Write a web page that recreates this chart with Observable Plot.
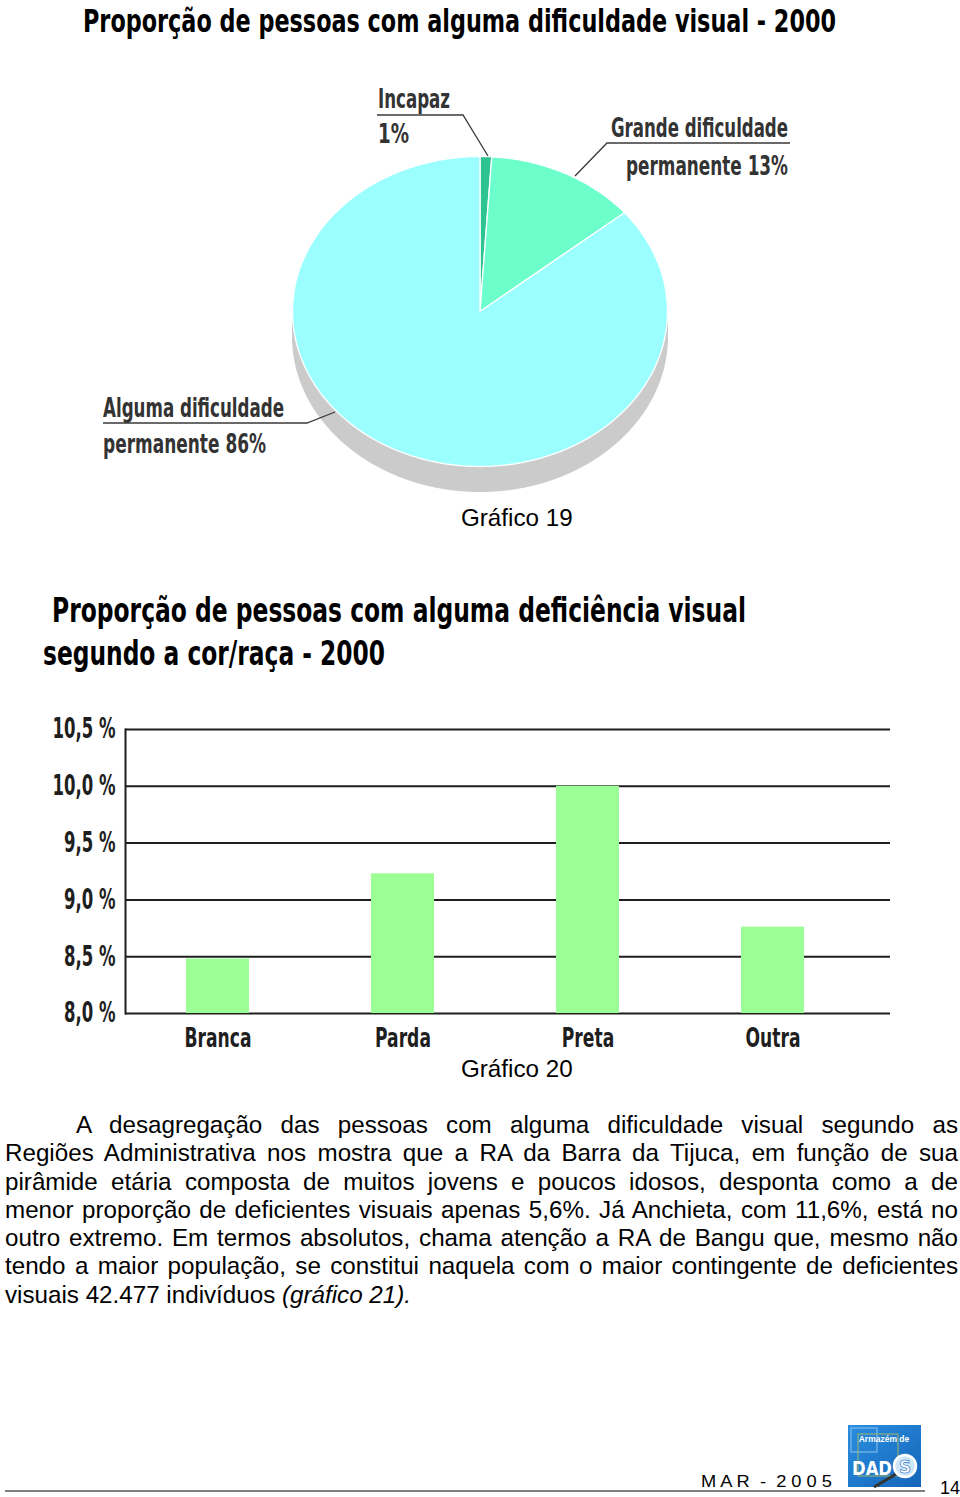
<!DOCTYPE html>
<html>
<head>
<meta charset="utf-8">
<script src="https://cdn.jsdelivr.net/npm/d3@7"></script>
<script src="https://cdn.jsdelivr.net/npm/@observablehq/plot@0.6"></script>
<style>
  html, body { margin: 0; padding: 0; background: #fff; }
  #page { position: relative; width: 960px; height: 1497px; overflow: hidden; background: #fff; }
  #pie, #bar { position: absolute; left: 0; }
  #pie { top: 0; }
  #bar { top: 700px; }
  #ann { position: absolute; left: 0; top: 0; pointer-events: none; }
  #para { position: absolute; left: 5px; top: 1111px; width: 953px;
          font-family: "Liberation Sans", Arial, sans-serif; font-size: 24.2px; line-height: 28.3px; color: #000; }
  #para div { text-align: justify; text-align-last: justify; }
  #para div.last { text-align: left; text-align-last: left; }
</style>
</head>
<body>
<div id="page">
  <div id="pie"></div>
  <div id="bar"></div>
  <svg id="ann" width="960" height="1497"></svg>
  <div id="para"></div>
</div>
<script>
// ---------- DATA ----------
const pieCategories = ["Incapaz", "Grande dificuldade permanente", "Alguma dificuldade permanente"];
const pieValues = [1, 13, 86];
const pieColors = ["#2ec492", "#6cffcc", "#9bffff"];

const barCategories = ["Branca", "Parda", "Preta", "Outra"];
const barValues = [8.48, 9.23, 10.0, 8.76];
const yTicks = [8.0, 8.5, 9.0, 9.5, 10.0, 10.5];
const yDomain = [8.0, 10.5];

const paragraphLines = [
  "A desagregação das pessoas com alguma dificuldade visual segundo as",
  "Regiões Administrativa nos mostra que a RA da Barra da Tijuca, em função de sua",
  "pirâmide etária composta de muitos jovens e poucos idosos, desponta como a de",
  "menor proporção de deficientes visuais apenas 5,6%. Já Anchieta, com 11,6%, está no",
  "outro extremo. Em termos absolutos, chama atenção a RA de Bangu que, mesmo não",
  "tendo a maior população, se constitui naquela com o maior contingente de deficientes"
];
const paragraphLast = ["visuais 42.477 indivíduos ", "(gráfico 21)."];

// ---------- FONT PICK ----------
function fontAvailable(name) {
  const c = document.createElement("canvas").getContext("2d");
  const s = "mmmmmmmmmmlli10,5% Branca";
  let diff = false;
  for (const base of ["monospace", "serif"]) {
    c.font = `40px ${base}`; const w1 = c.measureText(s).width;
    c.font = `40px "${name}", ${base}`; const w2 = c.measureText(s).width;
    if (Math.abs(w1 - w2) > 0.5) diff = true;
  }
  return diff;
}
const condCandidates = ["Liberation Sans Narrow", "DejaVu Sans Condensed", "Roboto Condensed", "Open Sans Condensed", "Roboto", "Liberation Sans"];
const cond = `"${condCandidates.find(fontAvailable) || "DejaVu Sans"}"`;
const arial = `"Liberation Sans", Arial, sans-serif`;

// ---------- PIE ----------
const total = d3.sum(pieValues);
const cum = d3.cumsum(pieValues);
const slices = pieValues.map((v, i) => {
  const a0 = ((cum[i] - v) / total) * 2 * Math.PI;
  const a1 = (cum[i] / total) * 2 * Math.PI;
  const n = Math.max(2, Math.ceil((a1 - a0) / (Math.PI / 180)));
  const pts = [{x: 0, y: 0}];
  for (let j = 0; j <= n; j++) {
    const t = a0 + (a1 - a0) * j / n;
    pts.push({x: Math.sin(t), y: Math.cos(t)});
  }
  pts.push({x: 0, y: 0});
  return {pts, color: pieColors[i]};
});
const depth = 25 / 155;
const side = [{x: 1, y: 0}];
for (let j = 0; j <= 180; j++) {
  const t = Math.PI / 2 + Math.PI * j / 180;
  side.push({x: Math.sin(t), y: Math.cos(t) - depth});
}
side.push({x: -1, y: 0});

const pie = Plot.plot({
  width: 960, height: 500, margin: 0,
  x: {domain: [-1, 1], range: [292, 667], axis: null},
  y: {domain: [-1, 1], range: [466, 156], axis: null},
  marks: [
    Plot.line(side, {x: "x", y: "y", fill: "#cbcbcb", stroke: "#cbcbcb", strokeWidth: 1, curve: "linear"}),
    ...slices.map(s => Plot.line(s.pts, {x: "x", y: "y", fill: s.color, stroke: "#ffffff", strokeWidth: 1.3, curve: "linear"}))
  ]
});
document.getElementById("pie").appendChild(pie);

// ---------- BAR ----------
const fmt = d => d.toFixed(1).replace(".", ",") + " %";
const bar = Plot.plot({
  width: 960, height: 360,
  marginTop: 29, marginBottom: 47, marginLeft: 125, marginRight: 70,
  style: {fontFamily: cond, color: "#1e1e1e", background: "transparent"},
  x: {domain: barCategories, range: [124, 866], paddingInner: 0.66, paddingOuter: 0.33, align: 0.5},
  y: {domain: yDomain},
  marks: [
    Plot.ruleY(yTicks, {stroke: "#1e1e1e", strokeWidth: 2}),
    Plot.frame({anchor: "left", stroke: "#1e1e1e", strokeWidth: 2}),
    Plot.barY(barCategories, {x: d => d, y1: () => yDomain[0], y2: (d, i) => barValues[i], fill: "#9cff96"}),
    Plot.axisY(yTicks, {tickSize: 0, tickPadding: 10, tickFormat: fmt, fontSize: 28, fontWeight: "bold", label: null}),
    Plot.axisX({tickSize: 0, tickPadding: 15, fontSize: 26, fontWeight: "bold", label: null})
  ]
});
document.getElementById("bar").appendChild(bar);

// fit condensed axis labels to the reference widths
function fitGroup(sel, refText, refWidth) {
  const texts = Array.from(bar.querySelectorAll(sel));
  const ref = texts.find(t => t.textContent === refText);
  if (!ref) return;
  const k = refWidth / ref.getComputedTextLength();
  texts.forEach(t => {
    const w = t.getComputedTextLength();
    t.setAttribute("textLength", (w * k).toFixed(1));
    t.setAttribute("lengthAdjust", "spacingAndGlyphs");
  });
}
fitGroup('g[aria-label="y-axis tick label"] text', "10,5 %", 63);
fitGroup('g[aria-label="x-axis tick label"] text', "Branca", 67);

// ---------- ANNOTATIONS ----------
const ann = d3.select("#ann");
const leaders = [
  [[377, 115], [463, 115], [488, 156]],
  [[790, 143], [607, 143], [575, 176]],
  [[103, 423], [307, 423], [335, 412]],
  [[5, 1491], [925, 1491]]
];
leaders.forEach((pts, i) => ann.append("path")
  .attr("d", d3.line()(pts)).attr("fill", "none")
  .attr("stroke", i === 3 ? "#000" : "#3a3a3a").attr("stroke-width", i === 3 ? 1 : 1.3));

const texts = [
  {t: "Proporção de pessoas com alguma dificuldade visual - 2000", x: 83, y: 32, w: 753, s: 32, f: cond, wt: "bold", c: "#000"},
  {t: "Proporção de pessoas com alguma deficiência visual", x: 52, y: 622, w: 694, s: 34, f: cond, wt: "bold", c: "#000"},
  {t: "segundo a cor/raça - 2000", x: 43, y: 665, w: 342, s: 34, f: cond, wt: "bold", c: "#000"},
  {t: "Incapaz", x: 378, y: 108, w: 72, s: 26, f: cond, wt: "bold", c: "#333"},
  {t: "1%", x: 378, y: 143, w: 31, s: 26, f: cond, wt: "bold", c: "#333"},
  {t: "Grande dificuldade", x: 611, y: 137, w: 177, s: 26, f: cond, wt: "bold", c: "#333"},
  {t: "permanente 13%", x: 626, y: 175, w: 162, s: 26, f: cond, wt: "bold", c: "#333"},
  {t: "Alguma dificuldade", x: 103, y: 417, w: 181, s: 26, f: cond, wt: "bold", c: "#333"},
  {t: "permanente 86%", x: 103, y: 453, w: 163, s: 26, f: cond, wt: "bold", c: "#333"},
  {t: "Gráfico 19", x: 461, y: 526, s: 24.2, f: arial, c: "#000"},
  {t: "Gráfico 20", x: 461, y: 1077, s: 24.2, f: arial, c: "#000"},
  {t: "M A R  -  2 0 0 5", x: 701, y: 1487, w: 131, s: 16, f: arial, c: "#000"},
  {t: "14", x: 940, y: 1494, s: 18, f: arial, c: "#000"}
];
texts.forEach(d => {
  const el = ann.append("text").attr("x", d.x).attr("y", d.y)
    .attr("font-family", d.f).attr("font-size", d.s).attr("font-weight", d.wt || "normal")
    .attr("fill", d.c).attr("xml:space", "preserve").style("white-space", "pre").text(d.t);
  if (d.w) el.attr("textLength", d.w).attr("lengthAdjust", "spacingAndGlyphs");
});

// logo
const grad = ann.append("defs").append("linearGradient").attr("id", "lg").attr("x1", 0).attr("y1", 0).attr("x2", 1).attr("y2", 1);
grad.append("stop").attr("offset", 0).attr("stop-color", "#2a8ee0");
grad.append("stop").attr("offset", 1).attr("stop-color", "#1565b8");
const logo = ann.append("g").attr("transform", "translate(848,1425)");
logo.append("rect").attr("width", 73).attr("height", 62).attr("fill", "url(#lg)");
logo.append("rect").attr("x", 3).attr("y", 3).attr("width", 26).attr("height", 24).attr("fill", "none").attr("stroke", "#8cc4ee").attr("stroke-width", 1);
logo.append("rect").attr("x", 10).attr("y", 9).attr("width", 40).attr("height", 42).attr("fill", "none").attr("stroke", "#9fb86a").attr("stroke-width", 1);
logo.append("text").attr("x", 36).attr("y", 17).attr("text-anchor", "middle").attr("font-family", arial).attr("font-weight", "bold").attr("font-size", 8.5).attr("fill", "#fff").text("Armazém de");
logo.append("text").attr("x", 4).attr("y", 50).attr("font-family", cond).attr("font-weight", "bold").attr("font-size", 19).attr("fill", "#fff").attr("textLength", 40).attr("lengthAdjust", "spacingAndGlyphs").text("DAD");
logo.append("line").attr("x1", 50).attr("y1", 48).attr("x2", 26).attr("y2", 62).attr("stroke", "#333").attr("stroke-width", 3);
logo.append("circle").attr("cx", 57).attr("cy", 41).attr("r", 11).attr("fill", "#cfe6f7").attr("stroke", "#fff").attr("stroke-width", 2.5);
logo.append("text").attr("x", 57).attr("y", 48).attr("text-anchor", "middle").attr("font-family", cond).attr("font-weight", "bold").attr("font-size", 18).attr("fill", "#fff").attr("stroke", "#1a6fc0").attr("stroke-width", 0.6).text("S");

// paragraph
const para = d3.select("#para");
paragraphLines.forEach((l, i) => para.append("div").style("text-indent", i === 0 ? "71px" : "0").text(l));
const last = para.append("div").attr("class", "last");
last.append("span").text(paragraphLast[0]);
last.append("i").text(paragraphLast[1]);
</script>
</body>
</html>
